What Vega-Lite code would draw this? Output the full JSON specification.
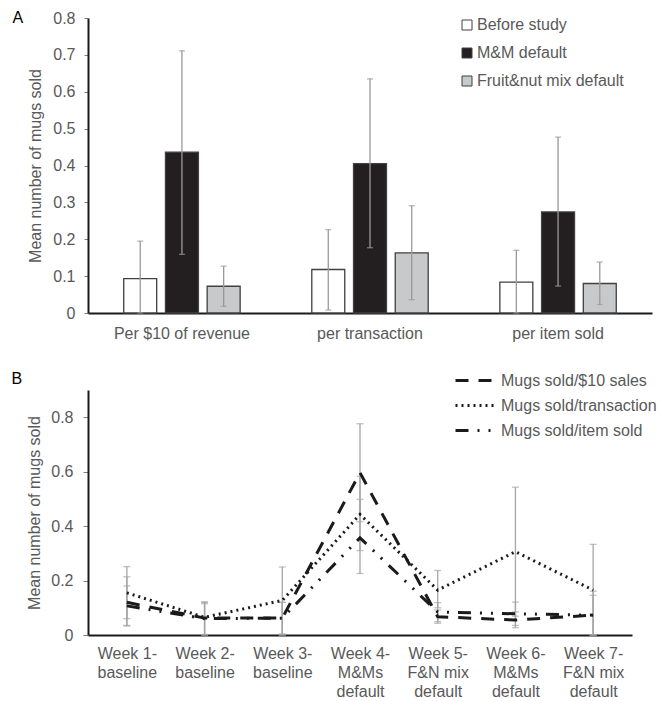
{
  "$schema": "https://vega.github.io/schema/vega-lite/v6.json",
  "background": "white",
  "padding": {"left": 11, "top": 10, "right": 5, "bottom": 0},
  "spacing": 27,
  "align": "none",
  "resolve": {"legend": {"color": "independent", "strokeDash": "independent"}, "scale": {"color": "independent", "strokeDash": "independent"}},
  "config": {
    "view": {"stroke": null},
    "font": "Liberation Sans",
    "axis": {"grid": false, "labelColor": "#595959", "titleColor": "#595959", "labelFontSize": 16, "titleFontSize": 16, "titleFontWeight": "normal", "domainColor": "#1a1a1a", "domainWidth": 2, "tickColor": "#7f7f7f", "zindex": 1},
    "legend": {"labelColor": "#595959", "labelFontSize": 16, "labelFont": "Liberation Sans"},
    "title": {"fontWeight": "normal", "color": "#000000", "fontSize": 16}
  },
  "vconcat": [
    {
      "width": 564,
      "height": 295,
      "title": {"text": "A", "orient": "left", "anchor": "end", "angle": 0, "frame": "group", "align": "right", "baseline": "middle", "offset": -6},
      "data": {"values": [
        {"metric": "Per $10 of revenue", "cond": "Before study", "mean": 0.093, "lo": 0.0, "hi": 0.195},
        {"metric": "Per $10 of revenue", "cond": "M&M default", "mean": 0.436, "lo": 0.159, "hi": 0.711},
        {"metric": "Per $10 of revenue", "cond": "Fruit&nut mix default", "mean": 0.0725, "lo": 0.018, "hi": 0.127},
        {"metric": "per transaction", "cond": "Before study", "mean": 0.118, "lo": 0.008, "hi": 0.226},
        {"metric": "per transaction", "cond": "M&M default", "mean": 0.405, "lo": 0.177, "hi": 0.635},
        {"metric": "per transaction", "cond": "Fruit&nut mix default", "mean": 0.163, "lo": 0.036, "hi": 0.291},
        {"metric": "per item sold", "cond": "Before study", "mean": 0.084, "lo": 0.0, "hi": 0.17},
        {"metric": "per item sold", "cond": "M&M default", "mean": 0.274, "lo": 0.073, "hi": 0.477},
        {"metric": "per item sold", "cond": "Fruit&nut mix default", "mean": 0.08, "lo": 0.023, "hi": 0.138}
      ]},
      "encoding": {
        "x": {"field": "metric", "type": "nominal", "sort": ["Per $10 of revenue", "per transaction", "per item sold"],
              "scale": {"paddingInner": 0.381, "paddingOuter": 0.19},
              "axis": {"title": null, "labelAngle": 0, "ticks": false, "labelPadding": 12}},
        "xOffset": {"field": "cond", "type": "nominal", "sort": ["Before study", "M&M default", "Fruit&nut mix default"], "scale": {"paddingInner": 0.21, "paddingOuter": 0}}
      },
      "layer": [
        {
          "mark": {"type": "bar", "stroke": "#404040", "strokeWidth": 1.3},
          "encoding": {
            "y": {"field": "mean", "type": "quantitative", "scale": {"domain": [0, 0.8]},
                  "axis": {"title": "Mean number of mugs sold", "values": [0, 0.1, 0.2, 0.3, 0.4, 0.5, 0.6, 0.7, 0.8], "format": ".1~f", "tickSize": 4, "labelPadding": 9, "titlePadding": 9}},
            "color": {"field": "cond", "type": "nominal", "sort": ["Before study", "M&M default", "Fruit&nut mix default"],
                      "scale": {"domain": ["Before study", "M&M default", "Fruit&nut mix default"], "range": ["#ffffff", "#231f20", "#c8c9ca"]},
                      "legend": {"title": null, "orient": "none", "legendX": 371, "legendY": -1, "symbolType": "square", "symbolSize": 100, "symbolStrokeColor": "#404040", "symbolStrokeWidth": 1, "rowPadding": 12, "labelOffset": 2}}
          }
        },
        {
          "mark": {"type": "rule", "color": "#999999", "strokeWidth": 1.3},
          "encoding": {"y": {"field": "lo", "type": "quantitative", "axis": {"title": "Mean number of mugs sold", "values": [0, 0.1, 0.2, 0.3, 0.4, 0.5, 0.6, 0.7, 0.8], "format": ".1~f", "tickSize": 4, "labelPadding": 9, "titlePadding": 9}}, "y2": {"field": "hi"}}
        },
        {
          "mark": {"type": "tick", "color": "#999999", "thickness": 1.3, "size": 6},
          "encoding": {"y": {"field": "lo", "type": "quantitative", "axis": {"title": "Mean number of mugs sold", "values": [0, 0.1, 0.2, 0.3, 0.4, 0.5, 0.6, 0.7, 0.8], "format": ".1~f", "tickSize": 4, "labelPadding": 9, "titlePadding": 9}}}
        },
        {
          "mark": {"type": "tick", "color": "#999999", "thickness": 1.3, "size": 6},
          "encoding": {"y": {"field": "hi", "type": "quantitative", "axis": {"title": "Mean number of mugs sold", "values": [0, 0.1, 0.2, 0.3, 0.4, 0.5, 0.6, 0.7, 0.8], "format": ".1~f", "tickSize": 4, "labelPadding": 9, "titlePadding": 9}}}
        }
      ]
    },
    {
      "width": 544,
      "height": 245,
      "title": {"text": "B", "orient": "left", "anchor": "end", "angle": 0, "frame": "group", "align": "right", "baseline": "middle", "offset": -6, "dy": -11},
      "data": {"values": [
        {"week": "Week 1-|baseline", "series": "Mugs sold/$10 sales", "mean": 0.12, "lo": 0.035, "hi": 0.214},
        {"week": "Week 2-|baseline", "series": "Mugs sold/$10 sales", "mean": 0.062, "lo": 0.002, "hi": 0.122},
        {"week": "Week 3-|baseline", "series": "Mugs sold/$10 sales", "mean": 0.062, "lo": 0.0, "hi": 0.12},
        {"week": "Week 4-|M&Ms|default", "series": "Mugs sold/$10 sales", "mean": 0.596, "lo": 0.416, "hi": 0.776},
        {"week": "Week 5-|F&N mix|default", "series": "Mugs sold/$10 sales", "mean": 0.067, "lo": 0.043, "hi": 0.092},
        {"week": "Week 6-|M&Ms|default", "series": "Mugs sold/$10 sales", "mean": 0.055, "lo": 0.027, "hi": 0.085},
        {"week": "Week 7-|F&N mix|default", "series": "Mugs sold/$10 sales", "mean": 0.073, "lo": 0.0, "hi": 0.146},
        {"week": "Week 1-|baseline", "series": "Mugs sold/transaction", "mean": 0.155, "lo": 0.06, "hi": 0.251},
        {"week": "Week 2-|baseline", "series": "Mugs sold/transaction", "mean": 0.065, "lo": 0.0, "hi": 0.12},
        {"week": "Week 3-|baseline", "series": "Mugs sold/transaction", "mean": 0.127, "lo": 0.004, "hi": 0.25},
        {"week": "Week 4-|M&Ms|default", "series": "Mugs sold/transaction", "mean": 0.443, "lo": 0.31, "hi": 0.583},
        {"week": "Week 5-|F&N mix|default", "series": "Mugs sold/transaction", "mean": 0.165, "lo": 0.1, "hi": 0.237},
        {"week": "Week 6-|M&Ms|default", "series": "Mugs sold/transaction", "mean": 0.306, "lo": 0.069, "hi": 0.543},
        {"week": "Week 7-|F&N mix|default", "series": "Mugs sold/transaction", "mean": 0.165, "lo": 0.0, "hi": 0.333},
        {"week": "Week 1-|baseline", "series": "Mugs sold/item sold", "mean": 0.107, "lo": 0.033, "hi": 0.18},
        {"week": "Week 2-|baseline", "series": "Mugs sold/item sold", "mean": 0.06, "lo": 0.0, "hi": 0.115},
        {"week": "Week 3-|baseline", "series": "Mugs sold/item sold", "mean": 0.062, "lo": 0.0, "hi": 0.12},
        {"week": "Week 4-|M&Ms|default", "series": "Mugs sold/item sold", "mean": 0.357, "lo": 0.226, "hi": 0.498},
        {"week": "Week 5-|F&N mix|default", "series": "Mugs sold/item sold", "mean": 0.084, "lo": 0.049, "hi": 0.119},
        {"week": "Week 6-|M&Ms|default", "series": "Mugs sold/item sold", "mean": 0.078, "lo": 0.035, "hi": 0.121},
        {"week": "Week 7-|F&N mix|default", "series": "Mugs sold/item sold", "mean": 0.073, "lo": 0.0, "hi": 0.161}
      ]},
      "encoding": {
        "x": {"field": "week", "type": "ordinal", "sort": null, "scale": {"type": "point", "padding": 0.5},
              "axis": {"title": null, "labelAngle": 0, "ticks": false, "labelPadding": 10, "labelExpr": "split(datum.label, '|')", "labelLineHeight": 19}}
      },
      "layer": [
        {
          "mark": {"type": "rule", "color": "#a6a6a6", "strokeWidth": 1.3},
          "encoding": {"y": {"field": "lo", "type": "quantitative"}, "y2": {"field": "hi"}}
        },
        {
          "mark": {"type": "tick", "color": "#a6a6a6", "thickness": 1.3, "size": 7},
          "encoding": {"y": {"field": "lo", "type": "quantitative"}}
        },
        {
          "mark": {"type": "tick", "color": "#a6a6a6", "thickness": 1.3, "size": 7},
          "encoding": {"y": {"field": "hi", "type": "quantitative"}}
        },
        {
          "mark": {"type": "line", "color": "#1a1a1a", "strokeWidth": 3},
          "encoding": {
            "y": {"field": "mean", "type": "quantitative", "scale": {"domain": [0, 0.9]},
                  "axis": {"title": "Mean number of mugs sold", "values": [0, 0.2, 0.4, 0.6, 0.8], "format": "~g", "tickSize": 5, "labelPadding": 10, "titlePadding": 8}},
            "strokeDash": {"field": "series", "type": "nominal",
                           "scale": {"domain": ["Mugs sold/$10 sales", "Mugs sold/transaction", "Mugs sold/item sold"], "range": [[13, 10], [2, 4], [13, 9, 2, 9, 2, 9]]},
                           "legend": {"title": null, "orient": "none", "legendX": 366, "legendY": -22, "symbolType": "stroke", "symbolSize": 1444, "symbolStrokeWidth": 3, "symbolStrokeColor": "#1a1a1a", "clipHeight": 25, "rowPadding": 0, "labelOffset": 6}}
          }
        }
      ]
    }
  ]
}
